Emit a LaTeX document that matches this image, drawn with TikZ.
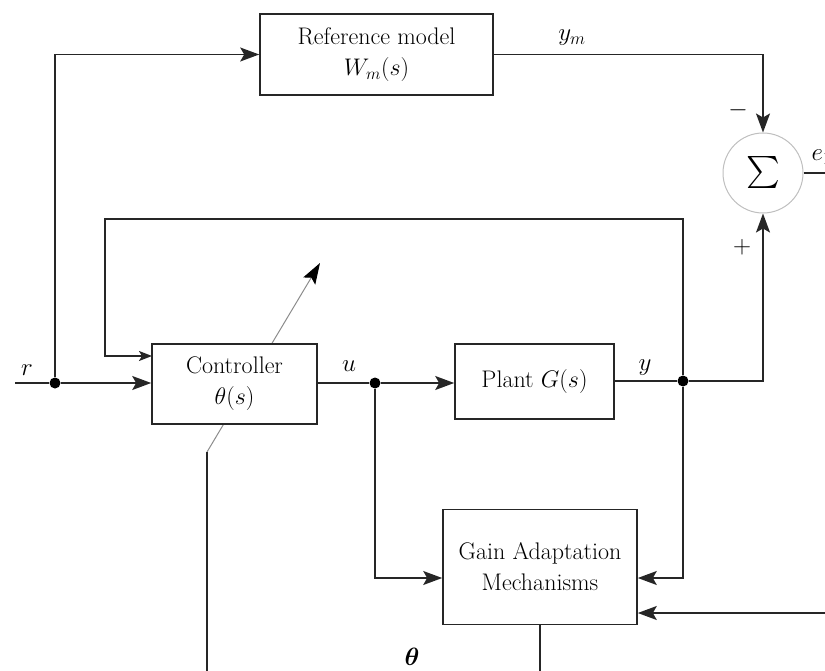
\RequirePackage{fix-cm}
\documentclass[tikz,border=0pt]{standalone}
\usepackage{fontspec}
\usepackage{bm}
\usetikzlibrary{arrows.meta,calc}
\begin{document}
\begin{tikzpicture}[x=1pt,y=-1pt,
  wire/.style={draw=black!85,line width=1.6pt},
  arr/.style={wire,-{Stealth[length=19pt,width=14pt,inset=4pt]}},
  smallarr/.style={wire,-{Stealth[length=13pt,width=10pt,inset=3pt]}},
  block/.style={draw=black!85,line width=1.6pt,fill=white,align=center,
    font=\fontsize{24}{31}\selectfont},
  lbl/.style={font=\fontsize{25}{28}\selectfont},
  dot/.style={circle,fill=black,inner sep=0pt,minimum size=11pt}]
\useasboundingbox (0,0) rectangle (825,671);

% adjustable-parameter arrow through the controller
\coordinate (adjS) at (207,452);
\coordinate (adjE) at (320,263);
\draw[draw=black!45,line width=1pt,-{Stealth[length=21pt,width=14pt,inset=4pt,black]}] (adjS) -- (adjE);

% blocks
\node[block,minimum width=233pt,minimum height=81pt] (ref) at (376.5,54.5)
  {Reference model\\$W_m(s)$};
\node[block,minimum width=165pt,minimum height=80pt] (ctrl) at (234.5,384)
  {Controller\\$\theta(s)$};
\node[block,minimum width=159pt,minimum height=75pt] (plant) at (534.5,381.5)
  {Plant $G(s)$};
\node[block,minimum width=194pt,minimum height=115pt] (gain) at (540,567)
  {Gain Adaptation\\Mechanisms};
\node[circle,draw=black!25,line width=1pt,minimum size=80pt,inner sep=0pt]
  (sum) at (763,173) {\scalebox{3.2}{$\sum$}};

% branch points and free ends
\node[dot] (rdot) at (55,383) {};
\node[dot] (udot) at (375,383) {};
\node[dot] (ydot) at (683,381) {};
\coordinate (rin) at (15,383);
\coordinate (fbtop) at (105,219);
\coordinate (ctrlfb) at (152,356);
\coordinate (eout) at (830,173);
\coordinate (gainL) at ($(gain.west)+(0,11)$);
\coordinate (gainR) at ($(gain.east)+(0,11)$);
\coordinate (gainR2) at ($(gain.east)+(0,46)$);
\coordinate (errin) at (830,613);
\coordinate (gout) at (540,690);
\coordinate (thin) at (207,690);

% reference path
\draw[wire] (rin) -- (rdot);
\draw[arr] (rdot) -- (ctrl.west |- rdot);
\draw[arr] (rdot) |- (ref.west);
\draw[arr] (ref.east) -| (sum.north);
\draw[wire] (sum.east) -- (eout);

% forward path
\draw[wire] (ctrl.east |- udot) -- (udot);
\draw[arr] (udot) -- (plant.west |- udot);
\draw[wire] (plant.east |- ydot) -- (ydot);
\draw[arr] (ydot) -| (sum.south);

% feedback into the controller
\draw[smallarr] (ydot) |- (fbtop) |- (ctrlfb);

% adaptation inputs and output
\draw[arr] (udot) |- (gainL);
\draw[arr] (ydot) |- (gainR);
\draw[arr] (errin) -- (gainR2);
\draw[wire] (gain.south) -- (gout);
\draw[wire] (thin) -- (adjS);

% labels
\node[lbl] at (27,370) {$r$};
\node[lbl] at (349,366) {$u$};
\node[lbl] at (645,368) {$y$};
\node[lbl] at (572,38) {$y_m$};
\node[lbl] at (738,110) {$-$};
\node[lbl] at (742,247) {$+$};
\node[lbl,anchor=west] at (808,157) {$e_1$};
\node[lbl] at (412,657) {$\bm{\theta}$};
\end{tikzpicture}
\end{document}
